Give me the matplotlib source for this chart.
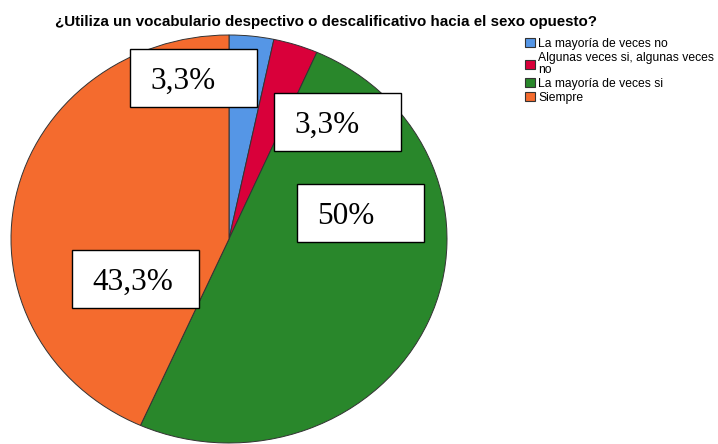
import matplotlib.pyplot as plt
from matplotlib.patches import Patch, Rectangle

categorias = ["La mayoría de veces no",
              "Algunas veces si, algunas veces\nno",
              "La mayoría de veces si",
              "Siempre"]
porcentajes = [3.3, 3.3, 50.0, 43.3]
etiquetas = ["3,3%", "3,3%", "50%", "43,3%"]
colores = ["#5596E6", "#D9003A", "#29872B", "#F46B2E"]

W, H = 718, 444
fig = plt.figure(figsize=(W / 100, H / 100), dpi=100)

# el pastel es una elipse: ejes sin aspecto igual
ax = fig.add_axes([11 / W, 1 / H, 436 / W, 408 / H])
ax.pie(porcentajes, colors=colores, startangle=90, counterclock=False,
       radius=1, wedgeprops=dict(edgecolor="#333333", linewidth=0.7))
ax.set_aspect("auto")
ax.set_xlim(-1, 1)
ax.set_ylim(-1, 1)
ax.axis("off")

# cajas de etiquetas (esquina superior izquierda en pixeles)
cajas = [(130, 49), (274, 93), (297, 184), (72, 250)]
for (x0, y0), txt in zip(cajas, etiquetas):
    bw, bh = 127, 58
    fig.add_artist(Rectangle((x0 / W, 1 - (y0 + bh) / H), bw / W, bh / H,
                             transform=fig.transFigure, facecolor="white",
                             edgecolor="black", linewidth=1.0, zorder=5))
    fig.text((x0 + 20) / W, 1 - (y0 + 40) / H, txt, ha="left", va="baseline",
             fontsize=22.5, family="Liberation Serif", zorder=6)

fig.text(326 / W, 1 - 22 / H,
         "¿Utiliza un vocabulario despectivo o descalificativo hacia el sexo opuesto?",
         ha="center", va="center", fontsize=10.9, fontweight="bold",
         family="Liberation Sans")

handles = [Patch(facecolor=c, edgecolor="#333333", linewidth=0.8) for c in colores]
leg = fig.legend(handles, categorias, loc="upper left",
                 bbox_to_anchor=(525 / W, 1 - 38 / H), frameon=False,
                 prop=dict(family="Liberation Sans", size=8.7),
                 handlelength=0.8, handleheight=0.8, handletextpad=0.3,
                 labelspacing=0.16, borderpad=0, borderaxespad=0)
for t in leg.get_texts():
    t.set_linespacing(1.0)

fig.savefig("out.png", dpi=100)
